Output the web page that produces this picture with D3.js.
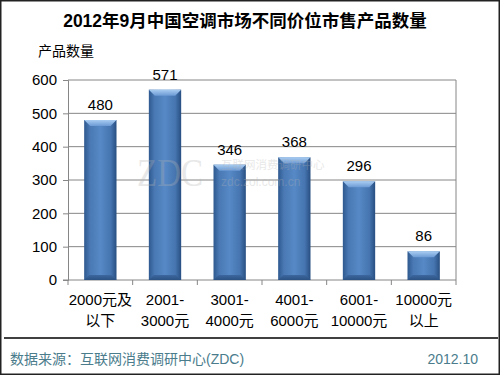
<!DOCTYPE html>
<html>
<head>
<meta charset="utf-8">
<script src="https://cdn.jsdelivr.net/npm/d3@7"></script>
<style>
    body { margin: 0; background: #fff; }
    text { font-family: "Liberation Sans", "Noto Sans CJK SC", sans-serif; }
</style>
</head>
<body>
<div id="chart"></div>
<script>
// chart data
const categories = [["2000元及", "以下"], ["2001-", "3000元"], ["3001-", "4000元"], ["4001-", "6000元"], ["6001-", "10000元"], ["10000元", "以上"]];
const values = [480, 571, 346, 368, 296, 86];
const yTicks = [0, 100, 200, 300, 400, 500, 600];

const titleText = "2012年9月中国空调市场不同价位市售产品数量";
const yTitle = "产品数量";
const sourceText = "数据来源：互联网消费调研中心(ZDC)";
const dateText = "2012.10";

let width = 500, height = 375;
let plot = { left: 68, right: 456, top: 80, bottom: 280 };

let svg = d3.select("#chart")
    .append("svg")
    .attr("width", width)
    .attr("height", height);

// gradients for the bevelled bars
let defs = svg.append("defs");
let body = defs.append("linearGradient").attr("id", "barBody")
    .attr("x1", "0%").attr("x2", "100%").attr("y1", "0%").attr("y2", "0%");
body.append("stop").attr("offset", "0%").attr("stop-color", "#2e598f");
body.append("stop").attr("offset", "18%").attr("stop-color", "#4a79b4");
body.append("stop").attr("offset", "50%").attr("stop-color", "#5689c6");
body.append("stop").attr("offset", "82%").attr("stop-color", "#4675b0");
body.append("stop").attr("offset", "100%").attr("stop-color", "#284f82");

let cap = defs.append("linearGradient").attr("id", "barCap")
    .attr("x1", "0%").attr("x2", "0%").attr("y1", "0%").attr("y2", "100%");
cap.append("stop").attr("offset", "0%").attr("stop-color", "#a9cdf2");
cap.append("stop").attr("offset", "100%").attr("stop-color", "#6c9ad4");

let base = defs.append("linearGradient").attr("id", "barBase")
    .attr("x1", "0%").attr("x2", "0%").attr("y1", "0%").attr("y2", "100%");
base.append("stop").attr("offset", "0%").attr("stop-color", "#3c679f");
base.append("stop").attr("offset", "100%").attr("stop-color", "#2c5283");

let x = d3.scaleBand()
    .domain(d3.range(categories.length))
    .range([plot.left, plot.right])
    .paddingInner(0.5)
    .paddingOuter(0.25);

let y = d3.scaleLinear().domain([0, 600]).range([plot.bottom, plot.top]);

// gridlines
svg.append("g")
    .selectAll("line")
    .data(yTicks.filter(d => d > 0))
    .enter()
    .append("line")
    .attr("x1", plot.left)
    .attr("x2", plot.right)
    .attr("y1", d => y(d))
    .attr("y2", d => y(d))
    .attr("stroke", "#868686")
    .attr("stroke-width", 1);

// right border of plot area
svg.append("line")
    .attr("x1", plot.right).attr("x2", plot.right)
    .attr("y1", plot.top).attr("y2", plot.bottom)
    .attr("stroke", "#868686");

// y axis
let yAxis = d3.axisLeft(y).tickValues(yTicks).tickSize(5).tickPadding(6);
let yG = svg.append("g")
    .attr("transform", `translate(${plot.left},0)`)
    .call(yAxis);
yG.select(".domain").attr("stroke", "#868686");
yG.selectAll(".tick line").attr("stroke", "#868686");
yG.selectAll(".tick text").style("font-size", "15px").attr("fill", "#000");

// x axis (ticks at band boundaries)
let step = x.step();
let boundaries = d3.range(categories.length + 1).map(i => plot.left + i * step);
svg.append("line")
    .attr("x1", plot.left - 5).attr("x2", plot.right)
    .attr("y1", plot.bottom).attr("y2", plot.bottom)
    .attr("stroke", "#868686");
svg.append("g")
    .selectAll("line")
    .data(boundaries)
    .enter()
    .append("line")
    .attr("x1", d => d).attr("x2", d => d)
    .attr("y1", plot.bottom).attr("y2", plot.bottom + 5)
    .attr("stroke", "#868686");

// bars
let bars = svg.append("g")
    .selectAll("g")
    .data(values)
    .enter()
    .append("g");

bars.append("rect")
    .attr("x", (d, i) => x(i))
    .attr("y", d => y(d))
    .attr("width", x.bandwidth())
    .attr("height", d => y(0) - y(d))
    .attr("fill", "url(#barBody)");

// top bevel
bars.append("path")
    .attr("d", (d, i) => {
        let x0 = x(i), x1 = x(i) + x.bandwidth(), t = y(d), b = 6;
        return `M${x0},${t}L${x1},${t}L${x1 - b},${t + b}L${x0 + b},${t + b}Z`;
    })
    .attr("fill", "url(#barCap)");

// bottom bevel
bars.append("path")
    .attr("d", (d, i) => {
        let x0 = x(i), x1 = x(i) + x.bandwidth(), bt = y(0), b = 5;
        return `M${x0},${bt}L${x1},${bt}L${x1 - b},${bt - b}L${x0 + b},${bt - b}Z`;
    })
    .attr("fill", "url(#barBase)");

// watermark, drawn faintly over the bars
let wm = svg.append("g").attr("opacity", 0.3).attr("fill", "#b4b4b4");
wm.append("text")
    .attr("x", 137).attr("y", 186)
    .attr("textLength", 66)
    .attr("lengthAdjust", "spacingAndGlyphs")
    .style("font-family", "'Liberation Serif', serif")
    .style("font-size", "40px")
    .text("ZDC");
wm.append("text")
    .attr("x", 221).attr("y", 169)
    .style("font-size", "11.5px")
    .text("互联网消费调研中心");
wm.append("text")
    .attr("x", 221).attr("y", 186)
    .style("font-size", "12px")
    .text("zdc.zol.com.cn");

// value labels
bars.append("text")
    .attr("x", (d, i) => x(i) + x.bandwidth() / 2)
    .attr("y", d => y(d) - 10)
    .attr("text-anchor", "middle")
    .style("font-size", "15px")
    .text(d => d);

// category labels
let catG = svg.append("g")
    .selectAll("text")
    .data(categories)
    .enter()
    .append("text")
    .attr("x", (d, i) => x(i) + x.bandwidth() / 2)
    .attr("y", 305)
    .attr("text-anchor", "middle")
    .style("font-size", "15px");
catG.append("tspan").attr("x", (d, i) => x(i) + x.bandwidth() / 2).attr("dy", 0).text(d => d[0]);
catG.append("tspan").attr("x", (d, i) => x(i) + x.bandwidth() / 2).attr("dy", 21).text(d => d[1]);

// titles
svg.append("text")
    .attr("x", 245)
    .attr("y", 27)
    .attr("text-anchor", "middle")
    .style("font-size", "17.5px")
    .style("font-weight", "bold")
    .text(titleText);

svg.append("text")
    .attr("x", 38)
    .attr("y", 56)
    .style("font-size", "14px")
    .text(yTitle);

// footer
svg.append("line")
    .attr("x1", 4).attr("x2", 498)
    .attr("y1", 338).attr("y2", 338)
    .attr("stroke", "#000")
    .attr("stroke-width", 1.5);

svg.append("text")
    .attr("x", 10)
    .attr("y", 364)
    .attr("fill", "#4a7c8c")
    .style("font-size", "14px")
    .text(sourceText);

svg.append("text")
    .attr("x", 478)
    .attr("y", 364)
    .attr("text-anchor", "end")
    .attr("fill", "#4a7c8c")
    .style("font-size", "14px")
    .text(dateText);

// outer frame
svg.append("rect")
    .attr("x", 0.75).attr("y", 0.75)
    .attr("width", width - 1.5).attr("height", height - 1.5)
    .attr("fill", "none")
    .attr("stroke", "#222")
    .attr("stroke-width", 1.5);
</script>
</body>
</html>
